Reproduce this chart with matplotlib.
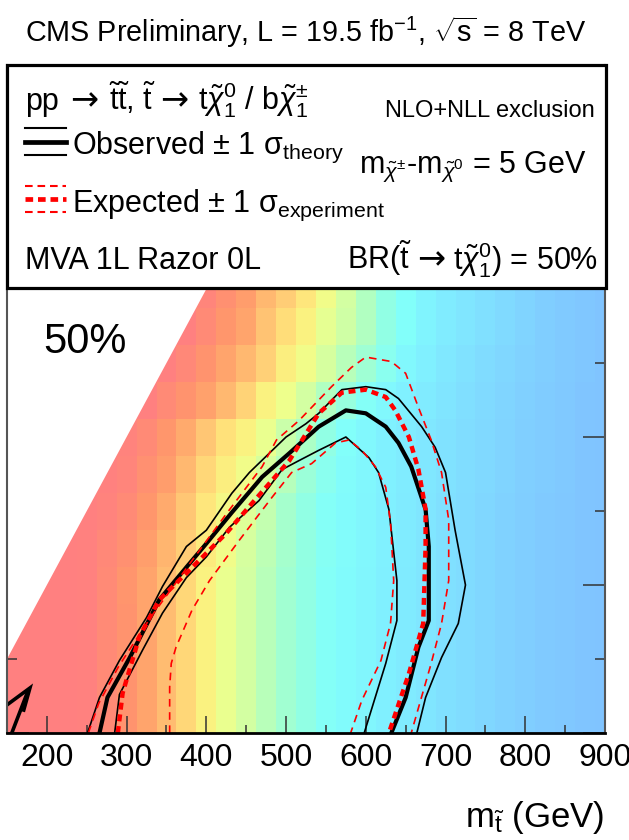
import numpy as np
import matplotlib
matplotlib.use("Agg")
import matplotlib.pyplot as plt
from matplotlib.colors import LinearSegmentedColormap, Normalize
from matplotlib.lines import Line2D
from matplotlib.patches import Rectangle, Polygon

plt.rcParams['font.family'] = ['Liberation Sans', 'DejaVu Sans']
plt.rcParams['mathtext.fontset'] = 'custom'
plt.rcParams['mathtext.rm'] = 'Liberation Sans'
plt.rcParams['mathtext.it'] = 'Liberation Sans:italic'
plt.rcParams['mathtext.bf'] = 'Liberation Sans:bold'
plt.rcParams['mathtext.sf'] = 'Liberation Sans'
plt.rcParams['lines.scale_dashes'] = False

# ---------------- data ----------------
mstop_centers = [150, 175, 200, 225, 250, 275, 300, 325, 350, 375, 400, 425, 450, 475, 500,
                 525, 550, 575, 600, 625, 650, 675, 700, 725, 750, 775, 800, 825, 850, 875, 900]
mlsp_centers = [0, 25, 50, 75, 100, 125, 150, 175, 200, 225, 250, 275, 300]

# colour level of the upper-limit map (0 = red ... 18 = blue), one row per m_LSP
limit_level = [
 [0, 0, 0, 0, 0.2, 1.0, 1.8, 3.0, 4.2, 5.5, 7.0, 8.2, 9.2, 10.2, 11.2, 12.0, 12.8, 13.3, 13.7, 14.2, 14.6, 15.0, 15.4, 15.8, 16.2, 16.6, 17.0, 17.3, 17.6, 17.9, 18.0],
 [0, 0, 0, 0, 0.2, 1.0, 1.8, 3.0, 4.2, 5.5, 7.0, 8.2, 9.2, 10.2, 11.2, 12.0, 12.8, 13.3, 13.7, 14.2, 14.6, 15.0, 15.4, 15.8, 16.2, 16.6, 17.0, 17.3, 17.6, 17.9, 18.0],
 [0, 0, 0, 0, 0.2, 1.0, 1.8, 3.0, 4.2, 5.5, 7.0, 8.2, 9.2, 10.2, 11.2, 12.0, 12.8, 13.3, 13.7, 14.2, 14.6, 15.0, 15.4, 15.8, 16.2, 16.6, 17.0, 17.3, 17.6, 17.9, 18.0],
 [0, 0, 0, 0, 0.2, 1.0, 1.8, 3.0, 4.2, 5.5, 7.0, 8.2, 9.2, 10.2, 11.2, 12.0, 12.8, 13.3, 13.7, 14.2, 14.6, 15.0, 15.4, 15.8, 16.2, 16.6, 17.0, 17.3, 17.6, 17.9, 18.0],
 [0, 0, 0, 0, 0.2, 1.0, 1.9, 3.0, 4.2, 5.5, 7.0, 8.2, 9.2, 10.2, 11.2, 12.0, 12.8, 13.3, 13.7, 14.2, 14.6, 15.0, 15.4, 15.8, 16.2, 16.6, 17.0, 17.3, 17.6, 17.9, 18.0],
 [0, 0, 0, 0, 0.2, 0.8, 1.5, 2.6, 3.8, 5.0, 6.6, 7.8, 9.0, 10.0, 11.0, 11.9, 12.7, 13.2, 13.6, 14.1, 14.5, 15.0, 15.4, 15.8, 16.2, 16.6, 17.0, 17.3, 17.6, 17.9, 18.0],
 [0, 0, 0, 0, 0.0, 0.3, 1.0, 2.0, 3.3, 4.7, 6.3, 7.5, 8.7, 9.8, 11.0, 12.0, 12.8, 13.3, 13.7, 14.2, 14.6, 15.0, 15.4, 15.8, 16.2, 16.6, 17.0, 17.3, 17.6, 17.9, 18.0],
 [0, 0, 0, 0, 0.0, 0.2, 0.5, 1.5, 2.5, 4.0, 5.5, 6.8, 7.8, 9.0, 10.3, 11.5, 12.5, 13.2, 13.6, 14.1, 14.5, 14.9, 15.3, 15.7, 16.1, 16.5, 16.9, 17.2, 17.5, 17.8, 18.0],
 [0, 0, 0, 0, 0.0, 0.0, 0.3, 1.0, 2.0, 3.3, 4.7, 6.0, 7.0, 8.2, 9.5, 10.7, 12.0, 13.0, 13.5, 14.0, 14.5, 14.9, 15.3, 15.7, 16.1, 16.5, 16.9, 17.2, 17.5, 17.8, 18.0],
 [0, 0, 0, 0, 0.0, 0.0, 0.0, 0.0, 1.0, 1.8, 2.8, 4.0, 5.3, 7.0, 8.0, 9.2, 10.5, 11.7, 12.8, 13.5, 14.0, 14.6, 15.1, 15.6, 16.0, 16.4, 16.8, 17.2, 17.5, 17.8, 18.0],
 [0, 0, 0, 0, 0.0, 0.0, 0.0, 0.0, 0.0, 0.8, 1.8, 3.0, 4.0, 5.2, 6.8, 7.8, 9.0, 10.2, 11.3, 12.5, 13.5, 14.2, 14.8, 15.3, 15.8, 16.2, 16.6, 17.0, 17.4, 17.7, 18.0],
 [0, 0, 0, 0, 0.0, 0.0, 0.0, 0.0, 0.0, 0.0, 1.0, 2.0, 3.0, 4.5, 5.8, 7.0, 8.3, 9.3, 10.5, 12.0, 13.0, 13.8, 14.5, 15.0, 15.5, 16.0, 16.5, 17.0, 17.4, 17.7, 18.0],
 [0, 0, 0, 0, 0.0, 0.0, 0.0, 0.0, 0.0, 0.0, 0.5, 1.5, 2.5, 4.0, 5.0, 6.3, 7.8, 9.2, 10.5, 12.0, 13.0, 13.8, 14.5, 15.0, 15.5, 16.0, 16.5, 17.0, 17.4, 17.7, 18.0],
]

palette = ['#ff8080', '#ff8a76', '#ff966c', '#ffa56c', '#ffb970', '#ffcd76', '#ffe17a', '#faf280',
           '#eeff8c', '#d7ff9e', '#beffb4', '#a5ffcd', '#91ffe4', '#82fffa', '#80f2ff', '#80e6ff',
           '#80daff', '#80ceff', '#80c4ff']

# contours (m_stop, m_LSP) in GeV
obs_x = [266, 276, 304, 341, 375, 400, 432, 470, 504, 541, 575, 600, 625, 641, 657, 675, 679, 679, 666, 650, 632]
obs_y = [0, 24, 51, 90, 112, 128, 149, 173, 189, 207, 218, 216, 207, 196, 180, 151, 126, 76, 58, 24, 0]

obs_up_x = [251, 266, 291, 325, 345, 375, 400, 432, 454, 500, 525, 541, 570, 600, 625, 641, 670, 687, 700, 712, 725, 716, 695, 675, 664]
obs_up_y = [0, 24, 49, 78, 99, 126, 137, 162, 176, 200, 209, 216, 232, 234, 232, 226, 207, 193, 176, 137, 100, 74, 51, 24, 0]

obs_dn_x = [285, 291, 320, 345, 375, 400, 429, 466, 495, 516, 541, 575, 604, 616, 629, 639, 639, 625, 598]
obs_dn_y = [0, 26, 56, 81, 105, 119, 139, 157, 178, 184, 191, 200, 186, 176, 151, 103, 76, 47, 0]

exp_x = [289, 295, 316, 341, 375, 425, 457, 504, 541, 570, 600, 625, 637, 654, 666, 675, 675, 672, 654, 629]
exp_y = [0, 27, 65, 90, 108, 135, 155, 184, 216, 230, 232, 227, 218, 200, 178, 151, 126, 74, 40, 0]

exp_up_x = [252, 265, 290, 330, 380, 425, 470, 488, 516, 557, 582, 600, 632, 650, 666, 682, 695, 704, 704, 695, 682, 657]
exp_up_y = [0, 20, 45, 78, 115, 148, 180, 198, 211, 234, 247, 254, 251, 243, 220, 198, 176, 144, 103, 74, 47, 0]

exp_dn_x = [354, 354, 356, 362, 382, 404, 441, 482, 507, 532, 562, 579, 595, 612, 625, 631, 635, 631, 619, 595, 581]
exp_dn_y = [0, 31, 47, 58, 83, 103, 130, 159, 176, 182, 196, 198, 191, 180, 166, 142, 103, 74, 49, 22, 0]

kin_offset = 100  # m_stop - m_LSP boundary of the scan

# ---------------- figure ----------------
W, H = 629, 840
fig = plt.figure(figsize=(W / 100, H / 100), dpi=100)
renderer = fig.canvas.get_renderer()

def F(px, py):
    return px / W, 1 - py / H

ax_l, ax_r, ax_b, ax_t = 7, 605, 733, 65
ax = fig.add_axes([ax_l / W, 1 - ax_b / H, (ax_r - ax_l) / W, (ax_b - ax_t) / H])
ymax = (ax_b - ax_t) / 1.48
ax.set_xlim(150, 900)
ax.set_ylim(0, ymax)

cmap = LinearSegmentedColormap.from_list('pastel_rainbow', palette)
xe = np.array(mstop_centers + [mstop_centers[-1] + 25]) - 12.5
ye = np.array(mlsp_centers + [mlsp_centers[-1] + 25]) - 12.5
ax.pcolormesh(xe, ye, np.array(limit_level), cmap=cmap, norm=Normalize(0, 18),
              shading='flat', zorder=1, antialiased=False, edgecolor='none')

# white region beyond kinematic boundary
ax.add_patch(Polygon([(140, 140 - kin_offset), (ymax + kin_offset + 10, ymax + 10), (140, ymax + 10)],
                     closed=True, facecolor='white', edgecolor='none', zorder=2))

# contours
ax.plot(obs_up_x, obs_up_y, color='black', lw=1.2, zorder=4)
ax.plot(obs_dn_x, obs_dn_y, color='black', lw=1.2, zorder=4)
ax.plot(obs_x, obs_y, color='black', lw=3.0, zorder=4)
ax.plot(exp_up_x, exp_up_y, color='#ff0000', lw=1.2, dashes=(5.5, 4), zorder=5)
ax.plot(exp_dn_x, exp_dn_y, color='#ff0000', lw=1.2, dashes=(5.5, 4), zorder=5)
ax.plot(exp_x, exp_y, color='#ff0000', lw=3.2, dashes=(5, 3.5), zorder=5)

# partial arrow in lower left corner
ax.plot([150, 178.75, 171], [19, 30.4, 15.5], color='black', lw=2.6, zorder=6,
        solid_joinstyle='miter', clip_on=True)
ax.plot([156, 176], [0, 28], color='black', lw=2.6, zorder=6)

ax.text(150 + (43 - 7) / 0.8, (733 - 353) / 1.48, '50%', fontsize=30,
        ha='left', va='baseline', zorder=6)

# axes styling
ax.set_xticks([200, 300, 400, 500, 600, 700, 800, 900])
ax.set_xticks([250, 350, 450, 550, 650, 750, 850], minor=True)
ax.set_yticks([0, 100, 200, 300, 400])
ax.set_yticks([50, 150, 250, 350], minor=True)
ax.tick_params(axis='x', which='major', direction='in', length=12, width=1.1, color='#333333',
               labelsize=23, pad=7, top=False)
ax.tick_params(axis='x', which='minor', direction='in', length=6, width=1.1, color='#333333', top=False)
ax.tick_params(axis='y', which='major', direction='in', length=16, width=1.1, color='#333333',
               left=True, right=True, labelleft=False)
ax.tick_params(axis='y', which='minor', direction='in', length=7, width=1.1, color='#333333',
               left=True, right=True)
for s in ['left', 'right']:
    ax.spines[s].set_color('#555555')
    ax.spines[s].set_linewidth(1.5)
ax.spines['bottom'].set_color('black')
ax.spines['bottom'].set_linewidth(2.0)
ax.spines['top'].set_visible(False)
for sp in ax.spines.values():
    sp.set_zorder(7)

# legend box
x0, y0 = F(7, 288)
x1, y1 = F(606, 65)
fig.add_artist(Rectangle((x0, y0), x1 - x0, y1 - y0, transform=fig.transFigure,
                         facecolor='white', edgecolor='black', lw=2.3, zorder=10))

def ftext(px, py, s, size, ha='left'):
    fig.text(*F(px, py), s, fontsize=size, ha=ha, va='baseline', zorder=11)

LIB = ['Liberation Sans', 'DejaVu Sans']
DJV = ['DejaVu Sans']

def seq_text(px, py, pieces, size, ha='left'):
    """pieces: (string, family, gap before in px, size scale)"""
    made = []
    for s, fam, gap, sc in pieces:
        t = fig.text(0, 1 - py / H, s, fontsize=size * sc, family=fam, va='baseline',
                     ha='left', zorder=11)
        w = t.get_window_extent(renderer).width
        made.append((t, gap, w))
    total = sum(g + w for _, g, w in made)
    x = px if ha == 'left' else px - total
    for t, gap, w in made:
        x += gap
        t.set_x(x / W)
        x += w

ftext(25, 42, r'CMS Preliminary, L = 19.5 fb$^{\mathregular{-1}}$, $\sqrt{\mathrm{s}}$ = 8 TeV', 20.7)

seq_text(25, 110, [
    ('pp', LIB, 0, 1.0),
    ('→', DJV, 11, 1.1),
    (r'$\tilde{\mathrm{t}}\tilde{\mathrm{t}}$, $\tilde{\mathrm{t}}$', LIB, 11, 1.0),
    ('→', DJV, 5, 1.1),
    (r'$\mathrm{t}\tilde{\chi}^{0}_{1}$ / $\mathrm{b}\tilde{\chi}^{\pm}_{1}$', LIB, 9, 1.0),
], 22)

ftext(72, 154, r'Observed ± 1 $\mathrm{\sigma}_{\mathrm{theory}}$', 22)
ftext(72, 212, r'Expected ± 1 $\mathrm{\sigma}_{\mathrm{experiment}}$', 22)
ftext(25, 269, 'MVA 1L Razor 0L', 22)
ftext(595, 117, 'NLO+NLL exclusion', 17, ha='right')
ftext(587, 173, r'$\mathrm{m}_{\tilde{\chi}^{\pm}}$-$\mathrm{m}_{\tilde{\chi}^{0}}$ = 5 GeV', 22, ha='right')

seq_text(598, 269, [
    (r'BR($\tilde{\mathrm{t}}$', LIB, 0, 1.0),
    ('→', DJV, 4, 1.1),
    (r'$\mathrm{t}\tilde{\chi}^{0}_{1}$) = 50%', LIB, 8, 1.0),
], 22, ha='right')

# legend symbols
def fline(px0, px1, py, **kw):
    a, b = F(px0, py)
    c, _ = F(px1, py)
    fig.add_artist(Line2D([a, c], [b, b], transform=fig.transFigure, zorder=11, **kw))

fline(25, 66, 128, color='black', lw=1.5)
fline(25, 66, 142, color='black', lw=3.4)
fline(25, 66, 155, color='black', lw=1.5)
fline(25, 66, 186, color='#ff0000', lw=1.5, dashes=(5.5, 3.5))
fline(25, 66, 199, color='#ff0000', lw=3.4, dashes=(5.5, 3.5))
fline(25, 66, 212, color='#ff0000', lw=1.5, dashes=(5.5, 3.5))

# x axis title
ftext(604, 827, r'$\mathrm{m}_{\tilde{\mathrm{t}}}$ (GeV)', 25, ha='right')

fig.savefig('out.png', dpi=100)
